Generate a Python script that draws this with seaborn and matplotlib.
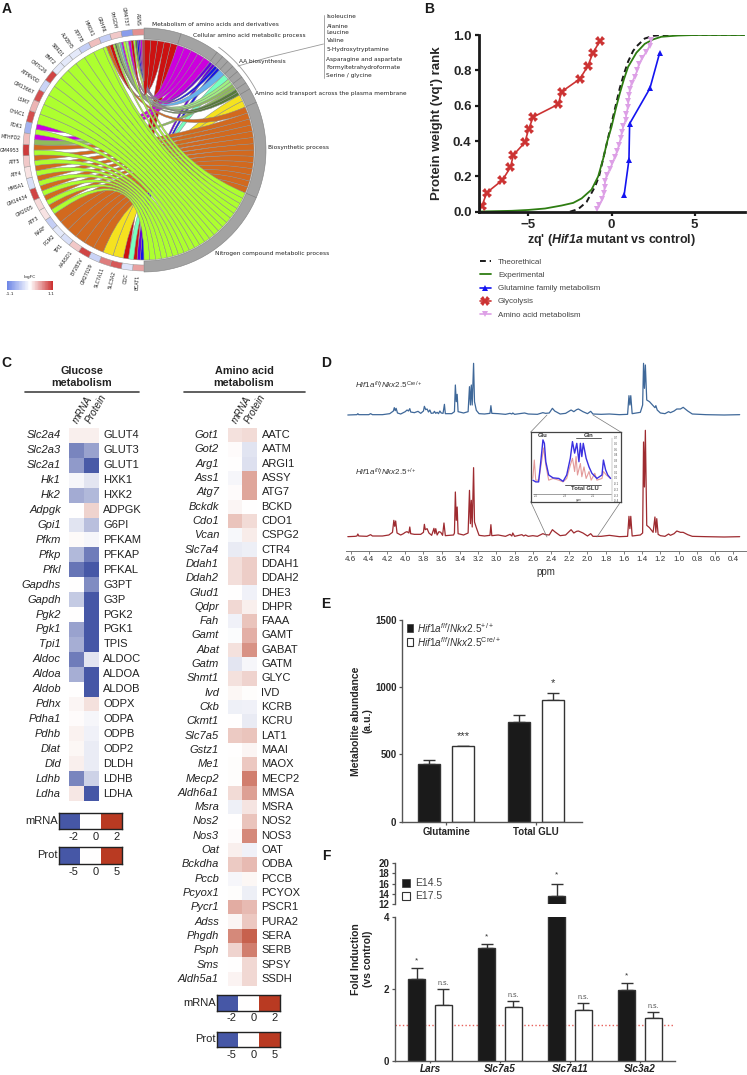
import numpy as np
import pandas as pd
import matplotlib
matplotlib.use('Agg')
import matplotlib.pyplot as plt
import seaborn as sns
from matplotlib.path import Path
from matplotlib.patches import PathPatch, Rectangle
from matplotlib.colors import LinearSegmentedColormap

# ---- panel A: chord
gene_names = ['BCAT1', 'ODC', 'SLC3A2', 'SLC7A11', 'GM27029', 'EIF2B3V', 'AARSD1', 'TPI1', 'PGM2', 'NARF', 'ATF3',
              'GM2005', 'GM14434', 'HMSA1', 'ATF4', 'ATF5', 'GM4953', 'MTHFD2', 'PDK1', 'CHAC1', 'LSM7', 'GM13667',
              'ATP6V0D', 'CMTC26', 'BMT2', 'SBRD1', 'ALKBH5', 'ATP7B', 'HMOX1', 'GRHPR', 'PHGDH', 'GM4737', 'ASNS']
gene_logfc = [0.5, -0.25, 0.9, 0.7, -0.4, 1.0, 0.3, -0.3, -0.2, -0.45, 0.15, 0.2, 1.0, -0.3, 0.15, 0.3, 1.05, 0.35,
              -0.7, 0.95, 0.4, 0.95, -0.4, 1.0, -0.2, -0.2, -0.2, -0.45, 0.35, -0.45, 0.3, -0.9, 0.6]
term_span = [17.7, 19.1, 3.3, 3.3, 3.3, 3.3, 3.3, 3.3, 3.4, 7.0, 46.0, 67.0]
term_colors = ['#CC1111', '#CC00DD', '#6600DD', '#1515E8', '#66B2EE', '#77FFC0', '#A0F080', '#8FBC5A', '#567A3A',
               '#F5E21F', '#D2691E', '#ADFF2F']
gene_terms = [[3, 2, 0], [5, 0], [9], [9], [10], [10], [10], [10], [10], [10],
              [11, 10], [11, 10], [11, 10], [11, 10], [11, 10], [11, 10], [11, 10],
              [7, 1], [11, 1], [11], [11], [11], [11], [11], [11], [11], [11], [11], [11],
              [11, 10, 0], [11, 8, 7, 6, 4, 1], [11, 6, 1, 0], [11, 8, 3, 2, 1, 0]]

# ---- panel B
theo_x = [-2.5, -2, -1.5, -1, -0.75, -0.5, -0.25, 0, 0.25, 0.5, 0.75, 1, 1.3, 1.5, 2, 2.5, 3, 8]
theo_y = [0, 0.015, 0.055, 0.14, 0.2, 0.3, 0.4, 0.5, 0.6, 0.7, 0.78, 0.85, 0.91, 0.935, 0.98, 0.995, 1, 1]
exp_x = [-8, -6, -5, -4, -3, -2.3, -1.8, -1.2, -0.8, -0.5, -0.25, 0, 0.25, 0.5, 0.75, 1, 1.5, 2, 2.5, 3, 4, 5, 8]
exp_y = [0.001, 0.005, 0.01, 0.018, 0.035, 0.05, 0.075, 0.125, 0.2, 0.3, 0.4, 0.48, 0.58, 0.67, 0.75, 0.82, 0.9,
         0.95, 0.975, 0.99, 0.997, 1, 1]
gln_x = [0.76, 1.05, 1.09, 2.31, 2.9]
gln_y = [0.094, 0.294, 0.498, 0.698, 0.9]
gly_x = [-7.79, -7.5, -6.56, -6.08, -5.9, -5.21, -4.99, -4.71, -3.2, -3.0, -1.91, -1.43, -1.13, -0.7]
gly_y = [0.034, 0.108, 0.179, 0.251, 0.321, 0.392, 0.466, 0.536, 0.608, 0.679, 0.751, 0.823, 0.896, 0.966]
aa_x = [-0.9, -0.75, -0.55, -0.45, -0.42, -0.38, -0.28, -0.1, 0.05, 0.2, 0.35, 0.45, 0.55, 0.62, 0.72, 0.85, 0.9,
        0.98, 1.02, 1.07, 1.1, 1.22, 1.4, 1.55, 1.65, 1.85, 2.1, 2.3, 2.4]
aa_y = [0.013, 0.04, 0.07, 0.105, 0.14, 0.175, 0.21, 0.24, 0.275, 0.31, 0.345, 0.38, 0.415, 0.45, 0.485, 0.52, 0.555,
        0.59, 0.625, 0.66, 0.695, 0.73, 0.765, 0.8, 0.835, 0.87, 0.905, 0.94, 0.97]

# ---- panel C
glc_genes = ['Slc2a4', 'Slc2a3', 'Slc2a1', 'Hk1', 'Hk2', 'Adpgk', 'Gpi1', 'Pfkm', 'Pfkp', 'Pfkl', 'Gapdhs', 'Gapdh',
             'Pgk2', 'Pgk1', 'Tpi1', 'Aldoc', 'Aldoa', 'Aldob', 'Pdhx', 'Pdha1', 'Pdhb', 'Dlat', 'Dld', 'Ldhb', 'Ldha']
glc_prots = ['GLUT4', 'GLUT3', 'GLUT1', 'HXK1', 'HXK2', 'ADPGK', 'G6PI', 'PFKAM', 'PFKAP', 'PFKAL', 'G3PT', 'G3P',
             'PGK2', 'PGK1', 'TPIS', 'ALDOC', 'ALDOA', 'ALDOB', 'ODPX', 'ODPA', 'ODPB', 'ODP2', 'DLDH', 'LDHB', 'LDHA']
glc_mrna = [0.08, -0.72, -0.6, -0.05, -0.5, 0, -0.16, 0.03, -0.42, -0.82, 0, -0.32, 0, -0.55, -0.48, -0.78, -0.48, 0,
            0.05, 0.02, 0.07, 0.04, 0.08, -0.72, 0.12]
glc_prot = [0.08, -0.55, -0.98, -0.15, -0.42, 0.22, -0.38, -0.05, -0.78, -1, -0.68, -1, -1, -1, -1, -0.15, -1, -1,
            0.15, -0.05, -0.08, -0.11, -0.11, -0.27, -1]
aa_genes = ['Got1', 'Got2', 'Arg1', 'Ass1', 'Atg7', 'Bckdk', 'Cdo1', 'Vcan', 'Slc7a4', 'Ddah1', 'Ddah2', 'Glud1',
            'Qdpr', 'Fah', 'Gamt', 'Abat', 'Gatm', 'Shmt1', 'Ivd', 'Ckb', 'Ckmt1', 'Slc7a5', 'Gstz1', 'Me1', 'Mecp2',
            'Aldh6a1', 'Msra', 'Nos2', 'Nos3', 'Oat', 'Bckdha', 'Pccb', 'Pcyox1', 'Pycr1', 'Adss', 'Phgdh', 'Psph',
            'Sms', 'Aldh5a1']
aa_prots = ['AATC', 'AATM', 'ARGI1', 'ASSY', 'ATG7', 'BCKD', 'CDO1', 'CSPG2', 'CTR4', 'DDAH1', 'DDAH2', 'DHE3', 'DHPR',
            'FAAA', 'GAMT', 'GABAT', 'GATM', 'GLYC', 'IVD', 'KCRB', 'KCRU', 'LAT1', 'MAAI', 'MAOX', 'MECP2', 'MMSA',
            'MSRA', 'NOS2', 'NOS3', 'OAT', 'ODBA', 'PCCB', 'PCYOX', 'PSCR1', 'PURA2', 'SERA', 'SERB', 'SPSY', 'SSDH']
aa_mrna = [0.15, 0.02, 0, -0.05, 0.02, 0.05, 0.3, -0.04, -0.12, 0.17, 0.17, 0, 0.2, -0.08, -0.02, 0.15, -0.15, 0.15,
           0.04, -0.09, 0, 0.27, 0, 0.01, 0.01, 0.18, -0.09, 0, 0.02, 0.08, 0.27, -0.05, 0.01, 0.42, 0.05, 0.6, 0.22,
           0, 0.06]
aa_prot = [0.18, -0.16, -0.18, 0.45, 0.45, 0, 0.18, 0.1, -0.1, 0.25, 0.25, -0.08, 0.08, 0.3, 0.4, 0.55, -0.05, 0.22,
           0.01, -0.08, -0.12, 0.3, 0.05, 0.28, 0.65, 0.48, 0.14, 0.3, 0.6, -0.08, 0.35, 0.04, -0.1, 0.35, 0.28, 0.8,
           0.65, 0.2, 0.2]

# ---- panel D
blue_ppm = [4.63, 4.53, 4.52, 4.51, 4.4, 4.38, 4.36, 4.25, 4.17, 4.13, 4.12, 4.11, 4.1, 4.085, 4.05, 4.0, 3.98, 3.965,
            3.95, 3.94, 3.9, 3.86, 3.83, 3.8, 3.79, 3.775, 3.76, 3.745, 3.73, 3.715, 3.69, 3.68, 3.665, 3.65, 3.635,
            3.62, 3.605, 3.585, 3.57, 3.56, 3.49, 3.46, 3.45, 3.44, 3.43, 3.42, 3.36, 3.31, 3.295, 3.285, 3.275, 3.265,
            3.25, 3.24, 3.22, 3.19, 3.13, 3.07, 3.06, 3.05, 2.98, 2.9, 2.85, 2.83, 2.82, 2.8, 2.72, 2.69, 2.65, 2.55,
            2.49, 2.46, 2.42, 2.385, 2.36, 2.3, 2.24, 2.18, 2.15, 2.12, 2.1, 2.05, 2.0, 1.965, 1.94, 1.85, 1.76, 1.65,
            1.56, 1.545, 1.535, 1.525, 1.51, 1.42, 1.395, 1.385, 1.375, 1.365, 1.35, 1.32, 1.28, 1.26, 1.25, 1.235,
            1.2, 1.15, 1.11, 1.09, 1.05, 1.02, 0.98, 0.95, 0.9, 0.85, 0.7, 0.5, 0.33]
blue_int = [0, 1, 4, 1, 1, 4, 1, 1, 4, 12, 22, 13, 20, 6, 3, 10, 15, 12, 19, 9, 7, 11, 5, 12, 26, 16, 18, 9, 15, 5, 6,
            11, 5, 8, 4, 12, 6, 5, 32, 4, 4, 10, 90, 40, 62, 10, 6, 10, 85, 30, 90, 30, 155, 40, 14, 4, 3, 5, 28, 5, 4,
            2, 5, 3, 6, 2, 5, 6, 3, 2, 7, 5, 6, 20, 12, 3, 5, 15, 10, 16, 18, 10, 4, 11, 3, 2, 3, 1, 2, 58, 30, 58, 4,
            8, 30, 155, 80, 150, 45, 40, 28, 22, 28, 15, 6, 4, 10, 7, 12, 18, 18, 23, 12, 3, 1, 0, 1]
red_ppm = [4.63, 4.55, 4.53, 4.52, 4.51, 4.42, 4.38, 4.36, 4.25, 4.18, 4.14, 4.125, 4.115, 4.105, 4.09, 4.05, 4.02, 4.0,
           3.98, 3.96, 3.95, 3.94, 3.9, 3.83, 3.8, 3.79, 3.78, 3.76, 3.74, 3.71, 3.685, 3.675, 3.665, 3.65, 3.63, 3.61,
           3.59, 3.575, 3.56, 3.47, 3.46, 3.45, 3.44, 3.43, 3.42, 3.36, 3.31, 3.295, 3.285, 3.275, 3.265, 3.25, 3.24,
           3.22, 3.19, 3.13, 3.07, 3.06, 3.05, 2.98, 2.9, 2.85, 2.83, 2.82, 2.8, 2.72, 2.7, 2.68, 2.65, 2.6, 2.55, 2.49,
           2.46, 2.42, 2.385, 2.36, 2.3, 2.24, 2.18, 2.15, 2.12, 2.1, 2.05, 2.0, 1.965, 1.94, 1.85, 1.76, 1.65, 1.56,
           1.545, 1.535, 1.525, 1.51, 1.42, 1.395, 1.385, 1.375, 1.365, 1.35, 1.32, 1.28, 1.26, 1.25, 1.24, 1.225, 1.2,
           1.15, 1.11, 1.09, 1.05, 1.02, 0.98, 0.95, 0.9, 0.85, 0.7, 0.5, 0.33]
red_int = [1, 2, 3, 9, 3, 2, 7, 3, 3, 6, 14, 50, 32, 48, 12, 6, 10, 14, 16, 12, 30, 10, 8, 8, 14, 38, 22, 25, 12, 5, 26,
           10, 25, 6, 16, 14, 5, 42, 4, 6, 12, 135, 50, 90, 10, 6, 12, 140, 40, 110, 30, 208, 45, 28, 5, 3, 5, 37, 4, 6,
           2, 8, 3, 12, 2, 7, 3, 6, 2, 4, 2, 10, 7, 6, 22, 16, 4, 6, 22, 12, 17, 18, 12, 3, 10, 2, 2, 5, 1, 2, 62, 25,
           62, 3, 6, 12, 285, 150, 320, 35, 28, 14, 60, 14, 55, 8, 4, 2, 9, 5, 10, 18, 14, 14, 7, 2, 1, 0, 1]
ppm_ticks = [4.6, 4.4, 4.2, 4.0, 3.8, 3.6, 3.4, 3.2, 3.0, 2.8, 2.6, 2.4, 2.2, 2.0, 1.8, 1.6, 1.4, 1.2, 1.0, 0.8, 0.6, 0.4]
inset_blue_ppm = [2.52, 2.5, 2.48, 2.465, 2.45, 2.44, 2.43, 2.41, 2.38, 2.34, 2.31, 2.285, 2.26, 2.245, 2.23, 2.215,
                  2.2, 2.19, 2.18, 2.17, 2.15, 2.13, 2.11, 2.075, 2.04, 2.03, 2.015, 2.0, 1.98]
inset_blue = [-0.03, -0.06, -0.06, 0.29, 0.67, 0.61, 0.29, 0.06, 0.01, 0, -0.05, 0.06, 0.35, 0.64, 0.44, 0.61, 0.29,
              0.61, 0.38, 0.61, 0.35, 0.2, 0.09, 0, 0.06, 0.32, 0.15, 0.06, 0]
inset_red_ppm = [2.52, 2.51, 2.5, 2.48, 2.465, 2.445, 2.43, 2.41, 2.38, 2.34, 2.31, 2.285, 2.26, 2.245, 2.23, 2.22, 2.21,
                 2.19, 2.18, 2.165, 2.15, 2.13, 2.115, 2.09, 2.075, 2.04, 2.03, 2.01, 1.98]
inset_red = [0, 0.32, -0.03, -0.03, 0.2, 0.53, 0.23, -0.03, 0, -0.03, -0.06, 0, 0.23, 0.35, 0.12, 0.38, 0.06, 0.26,
             0.03, 0.2, 0, 0.12, -0.03, 0.09, -0.03, 0, 0.12, 0.06, 0]

# ---- panel E
metabolites = ['Glutamine', 'Total GLU']
ctrl_vals = [430, 740]
ctrl_err = [28, 50]
cre_vals = [560, 905]
cre_err = [5, 55]
e_marks = ['***', '*']

# ---- panel F
f_genes = ['Lars', 'Slc7a5', 'Slc7a11', 'Slc3a2']
e14_vals = [2.27, 3.13, 13.6, 1.97]
e14_err = [0.31, 0.12, 2.4, 0.19]
e17_vals = [1.55, 1.5, 1.4, 1.2]
e17_err = [0.45, 0.17, 0.22, 0.17]

W, H = 747, 1075
sns.set_theme(style='ticks')
plt.rcParams['font.family'] = ['Liberation Sans', 'DejaVu Sans']
plt.rcParams['mathtext.fontset'] = 'custom'
plt.rcParams['mathtext.it'] = 'Liberation Sans:italic'
plt.rcParams['mathtext.rm'] = 'Liberation Sans'
plt.rcParams['mathtext.bfit'] = 'Liberation Sans:italic:bold'

fig = plt.figure(figsize=(W / 100, H / 100), dpi=100)
heat_cm = LinearSegmentedColormap.from_list('heat', ['#4657A6', '#FFFFFF', '#B93A22'])
logfc_cm = LinearSegmentedColormap.from_list('logfc', ['#6F87E6', '#FFFFFF', '#CC3333'])


def box(x0, y0, x1, y1, **kw):
    return fig.add_axes([x0 / W, 1 - y1 / H, (x1 - x0) / W, (y1 - y0) / H], **kw)


# overlay in pixel coordinates
ov = box(0, 0, W, H, zorder=5)
ov.set_xlim(0, W)
ov.set_ylim(H, 0)
ov.axis('off')

for letter, lx, ly in [('A', 7, 9), ('B', 429, 9), ('C', 6, 363), ('D', 326, 363), ('E', 326, 604), ('F', 326, 856)]:
    ov.text(lx, ly, letter, fontsize=10, fontweight='bold', color='k', ha='center', va='center')

#######################################################
# A
cx, cy = 144, 150
R_rib, R_gene0, R_gene1, R_term = 110, 115, 121, 122


def pol(r, a):
    a = np.radians(a)
    return np.column_stack([cx + r * np.sin(a), cy - r * np.cos(a)])


def ring(a0, a1, r0, r1, **kw):
    arc = np.linspace(a0, a1, 20)
    xy = np.vstack([pol(r1, arc), pol(r0, arc[::-1])])
    ov.fill(xy[:, 0], xy[:, 1], **kw)


def ribbon(g0, g1, t0, t1, color):
    ga = pol(R_rib, np.linspace(g0, g1, 8))
    ta = pol(R_rib, np.linspace(t0, t1, 8))
    verts = list(ga) + [(cx, cy), ta[0]] + list(ta[1:]) + [(cx, cy), ga[0]]
    codes = [Path.MOVETO] + [Path.LINETO] * 7 + [Path.CURVE3, Path.CURVE3] + [Path.LINETO] * 7 + [Path.CURVE3, Path.CURVE3]
    ov.add_patch(PathPatch(Path(verts, codes), facecolor=color, edgecolor='#8A8A8A', lw=0.35))


step = 180 / len(gene_names)
term_edges = np.concatenate([[0], np.cumsum(term_span)])
term_genes = {t: sorted([g for g, ts in enumerate(gene_terms) if t in ts], reverse=True) for t in range(len(term_span))}
for g, ts in enumerate(gene_terms):
    gw = step / len(ts)
    for k, t in enumerate(ts):
        tw = term_span[t] / len(term_genes[t])
        j = term_genes[t].index(g)
        ribbon(180 + g * step + k * gw, 180 + g * step + (k + 1) * gw,
               term_edges[t] + j * tw, term_edges[t] + (j + 1) * tw, term_colors[t])

for t in range(len(term_span)):
    ring(term_edges[t], term_edges[t + 1], R_rib + 1, R_term, facecolor='#A3A3A3', edgecolor='#7F7F7F', lw=0.4)
for g, name in enumerate(gene_names):
    a = 180 + g * step
    v = (gene_logfc[g] + 1.1) / 2.2
    ring(a, a + step, R_gene0, R_gene1, facecolor=logfc_cm(v), edgecolor='#9A9A9A', lw=0.35)
    xy = pol(R_gene1 + 3.5, a + step / 2)[0]
    ov.text(xy[0], xy[1], name, fontsize=3.4, family='DejaVu Sans', color='#222222', rotation=270 - (a + step / 2),
            rotation_mode='anchor', ha='right', va='center')

go_labels = [('Metabolism of amino acids and derivatives', 152, 24), ('Cellular amino acid metabolic process', 193, 36),
             ('AA biosynthesis', 239, 61), ('Amino acid transport across the plasma membrane', 255, 93),
             ('Biosynthetic process', 268, 147), ('Nitrogen compound metabolic process', 215, 253)]
for txt, x, y in go_labels:
    ov.text(x, y, txt, fontsize=4.25, family='DejaVu Sans', color='#222222', va='center', clip_on=False)
aa_list = ['Isoleucine', 'Alanine', 'Leucine', 'Valine', '5-Hydroxytryptamine', 'Asparagine and aspartate',
           'Formyltetrahydroformate', 'Serine / glycine']
for txt, y in zip(aa_list, [17, 26, 33, 41, 50, 59, 67, 76]):
    ov.text(326.5, y, txt, fontsize=4.25, family='DejaVu Sans', color='#222222', va='center')
ov.plot([323.5, 323.5], [15, 78], color='#999999', lw=0.6)
ov.plot([323.5, 270, 238], [44, 57, 66], color='#999999', lw=0.6)
arc = pol(127, np.linspace(36, 62, 30))
ov.plot(arc[:, 0], arc[:, 1], color='#999999', lw=0.6)

ax = box(7, 281, 53, 290)
sns.heatmap(np.linspace(-1.1, 1.1, 60)[None, :], ax=ax, cmap=logfc_cm, cbar=False, xticklabels=False, yticklabels=False)
ov.text(30, 277, 'logFC', fontsize=3.2, family='DejaVu Sans', ha='center', va='center')
ov.text(10, 294, '-1.1', fontsize=3.2, family='DejaVu Sans', ha='center', va='center')
ov.text(51, 294, '1.1', fontsize=3.2, family='DejaVu Sans', ha='center', va='center')

#######################################################
# B
ax = box(478.5, 35, 744.5, 211.7)
sns.lineplot(x=theo_x, y=theo_y, ax=ax, color='k', lw=1.4, ls=(0, (3, 2)), sort=False, estimator=None, label='Theorethical')
sns.lineplot(x=exp_x, y=exp_y, ax=ax, color='#2E7D12', lw=1.3, sort=False, estimator=None, label='Experimental')
sns.lineplot(x=gln_x, y=gln_y, ax=ax, color='#1414F0', lw=1.2, marker='^', ms=4.5, mew=0, sort=False, estimator=None,
             label='Glutamine family metabolism')
sns.lineplot(x=gly_x, y=gly_y, ax=ax, color='#CC3333', lw=1.2, marker='X', ms=6.5, mew=0, sort=False, estimator=None,
             label='Glycolysis')
sns.lineplot(x=aa_x, y=aa_y, ax=ax, color='#DDA0E6', lw=1.2, marker='v', ms=5, mew=0, sort=False, estimator=None,
             label='Amino acid metabolism')
ax.set_xlim(-8, 8)
ax.set_ylim(0, 1)
ax.set_xticks([-5, 0, 5])
ax.set_yticks([0, 0.2, 0.4, 0.6, 0.8, 1.0])
ax.set_yticklabels(['0.0', '0.2', '0.4', '0.6', '0.8', '1.0'])
ax.tick_params(length=3, width=1.6, labelsize=9.5, pad=2, color='k')
for t in ax.get_xticklabels() + ax.get_yticklabels():
    t.set_fontweight('bold')
sns.despine(ax=ax)
for s in ['left', 'bottom']:
    ax.spines[s].set_linewidth(2)
    ax.spines[s].set_color('k')
ax.set_xlabel(r"zq' ($\mathbfit{Hif1a}$ mutant vs control)", fontsize=9, fontweight='bold', labelpad=1)
ax.set_ylabel("Protein weight (vq') rank", fontsize=9.5, fontweight='bold', labelpad=7)
ax.legend(loc='upper left', bbox_to_anchor=(480 / W, 1 - 258.5 / H), bbox_transform=fig.transFigure, frameon=False,
          fontsize=5.8, labelcolor='#444444', borderpad=0, borderaxespad=0, handlelength=1.35, handletextpad=0.9,
          labelspacing=0.68)

#######################################################
# C
def heat_panel(x0, x1, y0, y1, genes, prots, mrna, prot, gpad):
    ax = box(x0, y0, x1, y1)
    df = pd.DataFrame({'mRNA': mrna, 'Protein': prot}, index=genes)
    sns.heatmap(df, ax=ax, cmap=heat_cm, vmin=-1, vmax=1, cbar=False, xticklabels=True, yticklabels=True)
    ax.xaxis.tick_top()
    ax.set_xticks([0.72, 1.62])
    ax.set_xticklabels(['mRNA', 'Protein'], rotation=60, ha='left', rotation_mode='anchor', fontsize=7.2,
                       fontstyle='italic', color='#222222')
    ax.set_yticks(np.arange(len(genes)) + 0.5)
    ax.set_yticklabels(genes, rotation=0, fontsize=8, fontstyle='italic', color='#222222')
    ax.tick_params(length=0, pad=gpad)
    ax.tick_params(axis='x', pad=2)
    for i, p in enumerate(prots):
        ax.text(2.33, i + 0.5, p, fontsize=8, va='center', color='#222222', clip_on=False)


def key_bar(x0, y0, y1, label, ticks):
    ax = box(x0, y0, x0 + 63, y1)
    sns.heatmap([[-1, 0, 1]], ax=ax, cmap=heat_cm, vmin=-1, vmax=1, cbar=False, xticklabels=False, yticklabels=False)
    ax.set_xticks([0.71, 1.76, 2.76])
    ax.set_xticklabels(ticks, fontsize=8, color='#222222')
    ax.tick_params(length=0, pad=2)
    for s in ax.spines.values():
        s.set_visible(True)
        s.set_linewidth(1)
        s.set_color('#222222')
    ov.text(x0 - 1, (y0 + y1) / 2, label, fontsize=8, ha='right', va='center', color='#222222')


heat_panel(69, 98.5, 428, 801, glc_genes, glc_prots, glc_mrna, glc_prot, 5.8)
heat_panel(227.7, 256.7, 428, 986, aa_genes, aa_prots, aa_mrna, aa_prot, 6.2)
key_bar(59, 813, 829, 'mRNA', ['-2', '0', '2'])
key_bar(59, 847, 864, 'Prot', ['-5', '0', '5'])
key_bar(217, 995, 1010.5, 'mRNA', ['-2', '0', '2'])
key_bar(217, 1032, 1047, 'Prot', ['-5', '0', '5'])
ov.text(82, 377, 'Glucose\nmetabolism', fontsize=7.8, fontweight='bold', ha='center', va='center', linespacing=1.15,
        color='#222222')
ov.text(244, 377, 'Amino acid\nmetabolism', fontsize=7.8, fontweight='bold', ha='center', va='center', linespacing=1.15,
        color='#222222')
ov.plot([25, 139], [392, 392], color='#444444', lw=1.2)
ov.plot([184, 305], [392, 392], color='#444444', lw=1.2)

#######################################################
# D
ax = box(346, 360, 745.7, 550.7)
blue_off, red_off = 135.7, 13.7
sns.lineplot(x=blue_ppm, y=np.array(blue_int) / 3 + blue_off, ax=ax, color='#3F6899', lw=0.9, sort=False, estimator=None)
sns.lineplot(x=red_ppm, y=np.array(red_int) / 3 + red_off, ax=ax, color='#9E2B30', lw=0.9, sort=False, estimator=None)
ax.set_xlim(4.65, 0.264)
ax.set_ylim(0, 190.7)
ax.set_xticks(ppm_ticks)
ax.set_xticklabels(['%.1f' % p for p in ppm_ticks], fontsize=5.8, color='#333333')
ax.tick_params(axis='x', length=2, width=0.6, pad=2, color='#666666')
ax.set_yticks([])
sns.despine(ax=ax, left=True)
ax.spines['bottom'].set_color('#777777')
ax.spines['bottom'].set_linewidth(0.7)
ax.patch.set_alpha(0)
ax.set_xlabel('ppm', fontsize=7, color='#333333', labelpad=3)
ov.text(355, 385, r'$\mathit{Hif1a}^{\mathit{f/f}}/\mathit{Nkx2.5}^{\mathrm{Cre/+}}$', fontsize=5.8, va='center', color='#333333')
ov.text(355, 472, r'$\mathit{Hif1a}^{\mathit{f/f}}/\mathit{Nkx2.5}^{+/+}$', fontsize=5.8, va='center', color='#333333')
for xs, ys in [([530.7, 547], [432, 415]), ([620.7, 593], [432, 415]), ([530.7, 547], [501.7, 537]), ([620.7, 597], [501.7, 537])]:
    ov.plot(xs, ys, color='#777777', lw=0.5)

ins = box(530.7, 432, 620.7, 501.7, zorder=6)
sns.lineplot(x=inset_red_ppm, y=inset_red, ax=ins, color='#E39A9A', lw=0.8, sort=False, estimator=None)
sns.lineplot(x=inset_blue_ppm, y=inset_blue, ax=ins, color='#3A30E0', lw=1.0, sort=False, estimator=None)
ins.set_xlim(2.535, 1.91)
ins.set_ylim(-0.404, 0.807)
ins.set_xticks([])
ins.set_yticks([])
for s in ins.spines.values():
    s.set_linewidth(0.9)
    s.set_color('#444444')
ins.plot([2.52, 1.98], [-0.27, -0.27], color='#555555', lw=0.4)
ins.plot([1.97, 1.97], [-0.4, 0.7], color='#888888', lw=0.3)
for v in [0.7, 0.6, 0.5, 0.4, 0.3, 0.2, 0.1, 0.0, -0.1, -0.2, -0.3, -0.4]:
    ins.text(1.96, v, '%.1f' % v, fontsize=2.2, va='center', color='#555555')
for v, lab in [(2.5, '2.5'), (2.3, '2.3'), (2.1, '2.1')]:
    ins.text(v, -0.31, lab, fontsize=2.2, ha='center', va='center', color='#555555')
ins.text(2.2, -0.38, 'ppm', fontsize=2.2, ha='center', va='center', color='#555555')
ins.text(2.45, 0.75, 'Glu', fontsize=4.2, fontweight='bold', ha='center', va='center', color='#333333')
ins.text(2.13, 0.75, 'Gln', fontsize=4.2, fontweight='bold', ha='center', va='center', color='#333333')
ins.plot([2.22, 2.05], [0.7, 0.7], color='#444444', lw=0.6)
ins.text(2.16, -0.18, 'Total GLU', fontsize=4.2, fontweight='bold', ha='center', va='center', color='#333333')
ins.plot([2.3, 2.05], [-0.12, -0.12], color='#444444', lw=0.6)


#######################################################
# E / F bar helpers
def bar_errors(ax, errs, color='#333333'):
    for p, e in zip(ax.patches, errs):
        xc = p.get_x() + p.get_width() / 2
        ax.errorbar([xc], [p.get_height()], yerr=[[0], [e]], color=color, lw=1, capsize=4.2, capthick=1, zorder=0.8)


# E
ax = box(402, 620, 581.7, 821.7)
df_e = pd.DataFrame({'metabolite': metabolites * 2, 'value': ctrl_vals + cre_vals, 'geno': ['ctrl'] * 2 + ['cre'] * 2})
sns.barplot(data=df_e, x='metabolite', y='value', hue='geno', palette={'ctrl': 'k', 'cre': 'w'}, width=0.754, gap=0.347,
            edgecolor='#333333', linewidth=1, errorbar=None, legend=False, ax=ax)
bar_errors(ax, ctrl_err + cre_err)
for p, lab, v, e in zip(ax.patches[2:], e_marks, cre_vals, cre_err):
    ax.text(p.get_x() + p.get_width() / 2, v + e + 72, lab, fontsize=8, ha='center', va='center', color='#333333')
ax.set_xlim(-0.496, 1.514)
ax.set_ylim(0, 1500)
ax.set_yticks([0, 500, 1000, 1500])
ax.tick_params(length=2.5, width=0.9, labelsize=7, pad=1.5, color='#555555')
for t in ax.get_xticklabels() + ax.get_yticklabels():
    t.set_fontweight('bold')
sns.despine(ax=ax)
for s in ['left', 'bottom']:
    ax.spines[s].set_color('#555555')
    ax.spines[s].set_linewidth(1)
ax.set_xlabel('')
ax.set_ylabel('Metabolite abundance\n(a.u.)', fontsize=7.5, fontweight='bold', labelpad=1.5, linespacing=1.25)
ov.add_patch(Rectangle((406.7, 624), 6.5, 8, facecolor='k', edgecolor='#333333', lw=0.5))
ov.add_patch(Rectangle((406.7, 637.5), 6.5, 8, facecolor='w', edgecolor='#333333', lw=0.8))
ov.text(417, 628.5, r'$\mathit{Hif1a}^{\mathit{f/f}}/\mathit{Nkx2.5}^{+/+}$', fontsize=7.2, va='center', color='#333333')
ov.text(417, 642, r'$\mathit{Hif1a}^{\mathit{f/f}}/\mathit{Nkx2.5}^{\mathrm{Cre/+}}$', fontsize=7.2, va='center', color='#333333')

# F
df_f = pd.DataFrame({'gene': f_genes * 2, 'value': e14_vals + e17_vals, 'stage': ['E14.5'] * 4 + ['E17.5'] * 4})
low = box(395, 916.7, 675, 1061)
high = box(395, 863.3, 675, 904)
for a in [low, high]:
    sns.barplot(data=df_f, x='gene', y='value', hue='stage', palette={'E14.5': 'k', 'E17.5': 'w'}, width=0.752, gap=0.342,
                edgecolor='#333333', linewidth=1, errorbar=None, legend=False, ax=a)
    bar_errors(a, e14_err + e17_err)
    a.set_xlim(-0.5, 3.5)
    a.set_xlabel('')
    a.set_ylabel('')
    a.tick_params(length=2.5, width=0.9, labelsize=7, pad=1.5, color='#555555')
    a.spines['left'].set_color('#555555')
    a.spines['left'].set_linewidth(1)
low.axhline(1, ls=':', color='#E8605A', lw=1, zorder=0.5)
low.set_ylim(0, 4)
low.set_yticks([0, 2, 4])
high.set_ylim(12, 20)
high.set_yticks([12, 14, 16, 18, 20])
high.set_xticks([])
sns.despine(ax=low)
sns.despine(ax=high, bottom=True)
low.spines['bottom'].set_color('#555555')
low.spines['bottom'].set_linewidth(1)
low.set_xticks(range(4))
low.set_xticklabels(f_genes, fontstyle='italic', fontsize=7.2, color='#222222')
for t in low.get_xticklabels() + low.get_yticklabels() + high.get_yticklabels():
    t.set_fontweight('bold')
low.tick_params(axis='x', pad=0.5, length=1.5)
for p, v, e in zip(low.patches[:4], e14_vals, e14_err):
    if v < 4:
        low.text(p.get_x() + p.get_width() / 2, v + e + 0.2, '*', fontsize=6, ha='center', va='center', color='#333333')
for p, v, e in zip(low.patches[4:], e17_vals, e17_err):
    low.text(p.get_x() + p.get_width() / 2, v + e + 0.14, 'n.s.', fontsize=5, ha='center', va='center', color='#555555')
hp = high.patches[2]
high.text(hp.get_x() + hp.get_width() / 2, e14_vals[2] + e14_err[2] + 1.7, '*', fontsize=6, ha='center', va='center', color='#333333')
ov.add_patch(Rectangle((402.3, 878.5), 8, 8, facecolor='k', edgecolor='#333333', lw=0.5))
ov.add_patch(Rectangle((402.3, 891.5), 8, 8, facecolor='w', edgecolor='#333333', lw=0.8))
ov.text(415, 882.7, 'E14.5', fontsize=7.5, va='center', color='#444444')
ov.text(415, 895.7, 'E17.5', fontsize=7.5, va='center', color='#444444')
ov.text(362, 959, 'Fold Induction\n(vs control)', fontsize=7.5, fontweight='bold', rotation=90, ha='center', va='center',
        linespacing=1.25, color='#222222')

plt.savefig('out.png', dpi=100)
